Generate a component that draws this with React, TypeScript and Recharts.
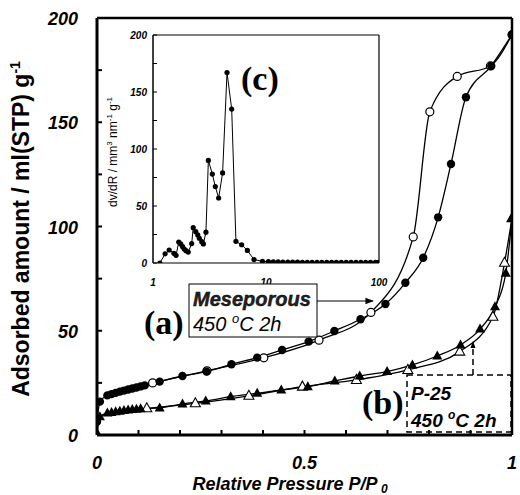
import React from "react";
import { LineChart, Line, XAxis, YAxis } from "recharts";

// mesoporous TiO2, adsorption (filled circles)
const mesoAdsX = [0, 0.007, 0.025, 0.035, 0.045, 0.055, 0.065, 0.075, 0.085, 0.095, 0.105, 0.115, 0.151, 0.206, 0.264, 0.324, 0.386, 0.446, 0.51, 0.572, 0.635, 0.695, 0.743, 0.786, 0.822, 0.853, 0.889, 0.95, 1.0];
const mesoAdsY = [6.4, 16, 19, 19.6, 20.2, 20.8, 21.3, 21.8, 22.3, 22.8, 23.3, 23.8, 25.6, 28.3, 30.4, 33.9, 37.1, 40.8, 44.8, 49.9, 55.5, 62.8, 73, 85, 104.4, 130, 162, 177, 192];
// mesoporous, desorption (open circles)
const mesoDesX = [0.134, 0.265, 0.402, 0.535, 0.66, 0.762, 0.802, 0.868, 0.948, 1.0];
const mesoDesY = [25, 30.8, 37, 45.5, 58.8, 95, 155, 172, 177, 192];
// P-25, adsorption (filled triangles)
const p25AdsX = [0, 0.007, 0.025, 0.035, 0.045, 0.055, 0.065, 0.075, 0.085, 0.095, 0.105, 0.151, 0.206, 0.262, 0.322, 0.386, 0.444, 0.508, 0.573, 0.633, 0.699, 0.76, 0.82, 0.876, 0.923, 0.959, 0.985, 1.0];
const p25AdsY = [1, 8.8, 10.5, 10.8, 11.1, 11.4, 11.7, 12, 12.2, 12.4, 12.6, 13, 14.9, 16.3, 18.4, 20, 21.6, 23.2, 25.9, 28.3, 30.4, 33.6, 37.9, 43.2, 50.8, 61.5, 77.6, 104];
// P-25, desorption (open triangles)
const p25DesX = [0.12, 0.237, 0.366, 0.495, 0.625, 0.749, 0.874, 0.954, 0.982, 1.0];
const p25DesY = [12.8, 15.2, 18.8, 23.2, 26.4, 31.2, 40, 56.7, 82.6, 104];

// inset (c): pore size distribution
const psdR = [1.15, 1.28, 1.39, 1.53, 1.6, 1.69, 1.76, 1.83, 1.89, 1.96, 2.05, 2.2, 2.27, 2.39, 2.49, 2.57, 2.7, 2.79, 2.94, 3.09, 3.35, 3.56, 3.81, 4.13, 4.52, 4.97, 5.42, 6.09, 6.84, 7.83, 9.3, 10.5, 11.6, 12.8, 14.1, 15.6, 17.2, 19, 21, 23.2, 25.6, 28.3, 31.2, 34.5, 38.1, 42, 46.4, 51.3, 56.6, 62.5, 69, 76.2, 84.1, 92.9, 99];
const psdV = [0, 8, 11.4, 8.5, 6.7, 18.4, 16.7, 14.3, 12.3, 10.8, 9.6, 17, 31, 27.5, 24.6, 21.7, 18.7, 16.7, 27, 90, 78, 67, 57, 79, 167, 135, 19, 16, 11, 3, 1.5, 1.2, 1, 0.9, 0.8, 0.8, 0.7, 0.7, 0.6, 0.6, 0.6, 0.5, 0.5, 0.5, 0.5, 0.5, 0.5, 0.5, 0.5, 0.5, 0.5, 0.5, 0.5, 0.5, 0.5];

const mainXTicks = [0, 0.1, 0.2, 0.3, 0.4, 0.5, 0.6, 0.7, 0.8, 0.9, 1];
const mainXLabels = ["0", "", "", "", "", "0.5", "", "", "", "", "1"];
const mainYTicks = [0, 25, 50, 75, 100, 125, 150, 175, 200];
const insetXTicks = [1, 10, 100];
const insetYTicks = [0, 25, 50, 75, 100, 125, 150, 175, 200];

const zip = (xs: number[], ys: number[]) => xs.map((x, i) => ({ x, y: ys[i] }));

const sans = "'Liberation Sans', Arial, sans-serif";
const serif = "'Liberation Serif', 'Times New Roman', serif";

const filledCircle = (p: any) => (p.cx == null ? <g key={p.index} /> : <circle key={p.index} cx={p.cx} cy={p.cy} r={4.2} fill="#000" />);
const openCircle = (p: any) =>
  p.cx == null ? <g key={p.index} /> : <circle key={p.index} cx={p.cx} cy={p.cy} r={4} fill="#fff" stroke="#000" strokeWidth={1.2} />;
const tri = (cx: number, cy: number) => `${cx},${cy - 5.5} ${cx - 5},${cy + 3.5} ${cx + 5},${cy + 3.5}`;
const filledTri = (p: any) => (p.cx == null ? <g key={p.index} /> : <polygon key={p.index} points={tri(p.cx, p.cy)} fill="#000" />);
const openTri = (p: any) =>
  p.cx == null ? <g key={p.index} /> : <polygon key={p.index} points={tri(p.cx, p.cy)} fill="#fff" stroke="#000" strokeWidth={1.1} />;
const smallDot = (p: any) => (p.cx == null ? <g key={p.index} /> : <circle key={p.index} cx={p.cx} cy={p.cy} r={2.6} fill="#000" />);

const MainXTick = (p: any) => {
  const i = mainXTicks.indexOf(p.payload.value);
  return (
    <text x={p.x} y={p.y + 39} textAnchor="middle" fontFamily={sans} fontSize={18} fontWeight="bold" fontStyle="italic" fill="#000">
      {mainXLabels[i] ?? ""}
    </text>
  );
};
const MainYTick = (p: any) => {
  const v = p.payload.value;
  return (
    <text x={p.x - 24} y={p.y + 7} textAnchor="end" fontFamily={sans} fontSize={18} fontWeight="bold" fontStyle="italic" fill="#000">
      {v % 50 === 0 ? String(v) : ""}
    </text>
  );
};
const InsetXTick = (p: any) => (
  <text x={p.x} y={p.y + 23} textAnchor="middle" fontFamily={sans} fontSize={10} fontWeight="bold" fontStyle="italic" fill="#000">
    {String(p.payload.value)}
  </text>
);
const InsetYTick = (p: any) => {
  const v = p.payload.value;
  return (
    <text x={p.x - 10} y={p.y + 4} textAnchor="end" fontFamily={sans} fontSize={10} fontWeight="bold" fontStyle="italic" fill="#000">
      {v % 50 === 0 ? String(v) : ""}
    </text>
  );
};

export default function App() {
  const mesoAds = zip(mesoAdsX, mesoAdsY);
  const mesoDes = zip(mesoDesX, mesoDesY);
  const p25Ads = zip(p25AdsX, p25AdsY);
  const p25Des = zip(p25DesX, p25DesY);
  const psd = zip(psdR, psdV);

  return (
    <div style={{ position: "absolute", left: 0, top: 0, width: 520, height: 495, background: "#fff", overflow: "hidden" }}>
      <div style={{ position: "absolute", left: 0, top: 0 }}>
        <LineChart width={520} height={495} margin={{ top: 17, right: 7, bottom: 20, left: 0 }}>
          <XAxis
            dataKey="x"
            type="number"
            domain={[0, 1]}
            ticks={mainXTicks}
            interval={0}
            allowDataOverflow
            tick={MainXTick}
            tickSize={-5}
            tickMargin={0}
            height={40}
            axisLine={{ stroke: "#000", strokeWidth: 3 }}
            tickLine={{ stroke: "#000", strokeWidth: 2 }}
          />
          <XAxis xAxisId="top" orientation="top" type="number" domain={[0, 1]} height={1} tick={false} tickLine={false} axisLine={{ stroke: "#000", strokeWidth: 2.5 }} />
          <YAxis
            type="number"
            domain={[0, 200]}
            ticks={mainYTicks}
            interval={0}
            allowDataOverflow
            tick={MainYTick}
            tickSize={-5}
            tickMargin={0}
            width={97}
            axisLine={{ stroke: "#000", strokeWidth: 3 }}
            tickLine={{ stroke: "#000", strokeWidth: 2 }}
          />
          <YAxis yAxisId="right" orientation="right" type="number" domain={[0, 200]} width={1} tick={false} tickLine={false} axisLine={{ stroke: "#000", strokeWidth: 2.5 }} />
          <Line data={mesoDes} dataKey="y" type="monotone" stroke="#000" strokeWidth={1.3} dot={openCircle} isAnimationActive={false} />
          <Line data={mesoAds} dataKey="y" type="monotone" stroke="#000" strokeWidth={1.3} dot={filledCircle} isAnimationActive={false} />
          <Line data={p25Des} dataKey="y" type="monotone" stroke="#000" strokeWidth={1.3} dot={openTri} isAnimationActive={false} />
          <Line data={p25Ads} dataKey="y" type="monotone" stroke="#000" strokeWidth={1.3} dot={filledTri} isAnimationActive={false} />
        </LineChart>
      </div>

      <div style={{ position: "absolute", left: 100, top: 25 }}>
        <LineChart width={290} height={270} margin={{ top: 9, right: 10, bottom: 7, left: 0 }}>
          <XAxis
            dataKey="x"
            type="number"
            scale="log"
            domain={[1, 100]}
            ticks={insetXTicks}
            interval={0}
            allowDataOverflow
            tick={InsetXTick}
            tickSize={0}
            tickMargin={0}
            tickLine={false}
            height={25}
            axisLine={{ stroke: "#000", strokeWidth: 1.2 }}
          />
          <XAxis xAxisId="top" orientation="top" type="number" domain={[0, 1]} height={1} tick={false} tickLine={false} axisLine={{ stroke: "#000", strokeWidth: 1.2 }} />
          <YAxis
            type="number"
            domain={[0, 200]}
            ticks={insetYTicks}
            interval={0}
            allowDataOverflow
            tick={InsetYTick}
            tickSize={-4}
            tickMargin={0}
            width={53}
            axisLine={{ stroke: "#000", strokeWidth: 1.5 }}
            tickLine={{ stroke: "#000", strokeWidth: 1 }}
          />
          <YAxis yAxisId="right" orientation="right" type="number" domain={[0, 200]} width={1} tick={false} tickLine={false} axisLine={{ stroke: "#000", strokeWidth: 1.2 }} />
          <Line data={psd} dataKey="y" type="linear" stroke="#000" strokeWidth={1} dot={smallDot} isAnimationActive={false} />
        </LineChart>
      </div>

      <svg width={520} height={495} style={{ position: "absolute", left: 0, top: 0, pointerEvents: "none" }}>
        <defs>
          <marker id="arr" viewBox="0 0 10 10" refX="9" refY="5" markerWidth="7" markerHeight="7" orient="auto">
            <path d="M0,1 L10,5 L0,9 z" fill="#000" />
          </marker>
        </defs>
        {/* axis titles */}
        <text transform="translate(29,229) rotate(-90)" textAnchor="middle" fontFamily={sans} fontSize={23} fontWeight="bold" fill="#000">
          Adsorbed amount / ml(STP) g<tspan dy={-9} fontSize={14}>-1</tspan>
        </text>
        <text x={290} y={490} textAnchor="middle" fontFamily={sans} fontSize={18} fontWeight="bold" fontStyle="italic" fill="#000">
          Relative Pressure P/P<tspan dy={3} fontSize={12}> 0</tspan>
        </text>
        <text transform="translate(117,152) rotate(-90)" textAnchor="middle" fontFamily={sans} fontSize={12} fill="#000">
          dv/dR / mm<tspan dy={-5} fontSize={8}>3</tspan>
          <tspan dy={5}> nm</tspan>
          <tspan dy={-5} fontSize={8}>-1</tspan>
          <tspan dy={5}> g</tspan>
          <tspan dy={-5} fontSize={8}>-1</tspan>
        </text>

        {/* panel letters */}
        <text x={241} y={90} fontFamily={serif} fontSize={34} fontWeight="bold" fill="#000">(c)</text>
        <text x={144} y={334} fontFamily={serif} fontSize={34} fontWeight="bold" fill="#000">(a)</text>
        <text x={362} y={414} fontFamily={serif} fontSize={34} fontWeight="bold" fill="#000">(b)</text>

        {/* (a) label box + arrow */}
        <rect x={189} y={284} width={128} height={53} fill="#fff" stroke="#000" strokeWidth={1} />
        <text x={193} y={306} fontFamily={sans} fontSize={20} fontWeight="bold" fontStyle="italic" fill="#222" stroke="#000" strokeWidth={0.4}>
          Meseporous
        </text>
        <text x={193} y={331} fontFamily={sans} fontSize={20} fontStyle="italic" fill="#000">
          450 <tspan dy={-8} fontSize={13}>o</tspan>
          <tspan dy={8}>C 2h</tspan>
        </text>
        <line x1={317} y1={301} x2={373} y2={301} stroke="#000" strokeWidth={1.2} markerEnd="url(#arr)" />

        {/* (b) dashed label box + leader */}
        <rect x={407} y={375} width={104} height={57} fill="none" stroke="#000" strokeWidth={1.5} strokeDasharray="6 4" />
        <line x1={473} y1={375} x2={473} y2={345} stroke="#000" strokeWidth={1.5} strokeDasharray="6 4" />
        <path d="M470.5,348 L473,341 L475.5,348 z" fill="#000" />
        <text x={411} y={400} fontFamily={sans} fontSize={19} fontWeight="bold" fontStyle="italic" fill="#000">
          P-25
        </text>
        <text x={411} y={427} fontFamily={sans} fontSize={19} fontWeight="bold" fontStyle="italic" fill="#000">
          450 <tspan dy={-8} fontSize={12}>o</tspan>
          <tspan dy={8}>C 2h</tspan>
        </text>
      </svg>
    </div>
  );
}
